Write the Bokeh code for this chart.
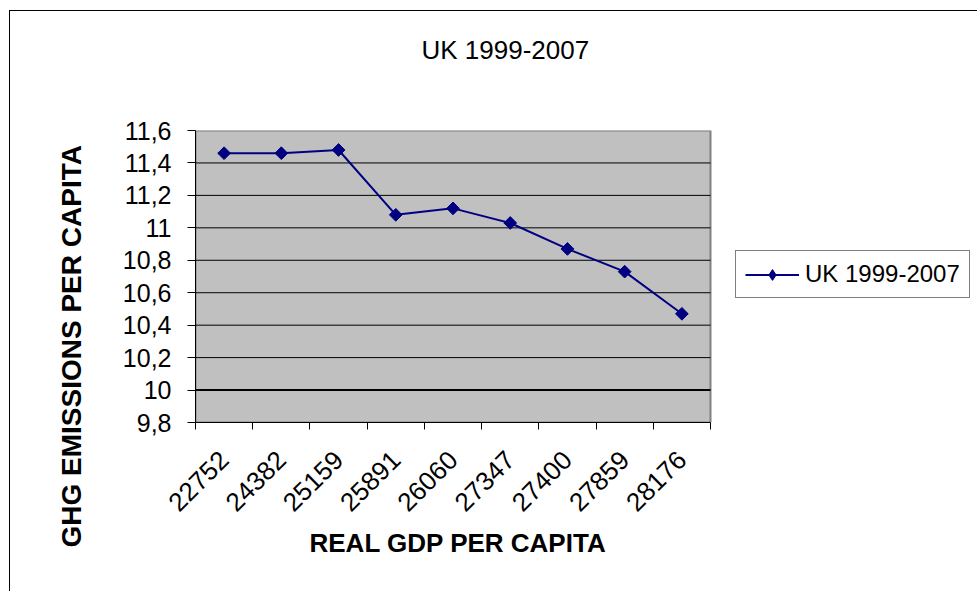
import math
from bokeh.plotting import figure
from bokeh.models import (Range1d, FixedTicker, Legend, LegendItem, Title,
                          ColumnDataSource, BoxAnnotation)
from bokeh.embed import file_html
from bokeh.resources import INLINE

# ---- data ----
gdp_labels = ["22752", "24382", "25159", "25891", "26060",
              "27347", "27400", "27859", "28176"]
ghg_values = [11.46, 11.46, 11.48, 11.08, 11.12, 11.03, 10.87, 10.73, 10.47]
y_ticks = [9.8, 10.0, 10.2, 10.4, 10.6, 10.8, 11.0, 11.2, 11.4, 11.6]
y_tick_labels = ["9,8", "10", "10,2", "10,4", "10,6", "10,8",
                 "11", "11,2", "11,4", "11,6"]
chart_title = "UK 1999-2007"
series_name = "UK 1999-2007"
x_title = "REAL GDP PER CAPITA"
y_title = "GHG EMISSIONS PER CAPITA"

FONT = "Liberation Sans"
NAVY = "#000080"

# ---- layout (pixels) ----
W, H = 968, 581
LEFT, TOP, BOTTOM = 185, 119, 170
PLOT_W = 515                       # width of the grey plot area
FRAME_W = W - LEFT                 # frame reaches the right edge (legend lives there)

n = len(gdp_labels)
x_pos = [i + 0.5 for i in range(n)]
x_bounds = list(range(n + 1))
x_end = n * FRAME_W / PLOT_W

p = figure(width=W, height=H, output_backend="svg", toolbar_location=None,
           x_range=Range1d(0, x_end), y_range=Range1d(y_ticks[0], y_ticks[-1]),
           min_border_left=LEFT, min_border_right=0,
           min_border_top=TOP, min_border_bottom=BOTTOM, title=None)
p.styles = {"margin-left": "9px", "margin-top": "10px",
            "border-left": "1px solid black", "border-top": "1px solid black"}

p.background_fill_color = "white"
p.border_fill_color = "white"
p.outline_line_color = None
p.xgrid.visible = False
p.ygrid.visible = False

# grey plot area
p.add_layout(BoxAnnotation(left=0, right=n, bottom=y_ticks[0], top=y_ticks[-1],
                           fill_color="#C0C0C0", fill_alpha=1,
                           line_color="#808080", line_width=2, line_alpha=1,
                           level="underlay"))
# horizontal gridlines inside plot area (the 10 line is heavier in the original)
grid_y = y_ticks[1:-1]
grid_w = [2 if v == 10.0 else 1 for v in grid_y]
p.segment(x0=[0] * len(grid_y), x1=[n] * len(grid_y), y0=grid_y, y1=grid_y,
          line_color="black", line_width=grid_w)

# spacer between frame and chart title, then the chart title
spacer = Title(text=" ", text_font_size="10px", standoff=48,
               text_font=FONT, text_color="white")
p.add_layout(spacer, "above")
main_title = Title(text=chart_title, align="left", offset=226, standoff=10,
                   vertical_align="bottom", text_font=FONT,
                   text_font_size="26px", text_font_style="normal",
                   text_color="black")
p.add_layout(main_title, "above")

# x axis
xa = p.xaxis[0]
xa.bounds = (0, n)
xa.ticker = FixedTicker(ticks=x_pos, minor_ticks=x_bounds)
xa.major_label_overrides = {x: lab for x, lab in zip(x_pos, gdp_labels)}
xa.major_label_orientation = math.pi / 4
xa.major_tick_line_color = None
xa.major_tick_out = 7
xa.major_tick_in = 0
xa.minor_tick_out = 7
xa.minor_tick_in = 0
xa.minor_tick_line_color = "black"
xa.axis_line_color = "black"
xa.major_label_text_font = FONT
xa.major_label_text_font_size = "26px"
xa.major_label_text_color = "black"
xa.major_label_standoff = 26

# x axis title (placed under the grey plot area, not the whole frame)
xtitle = Title(text=x_title, align="left", offset=114, standoff=10,
               vertical_align="top", text_font=FONT, text_font_size="26px",
               text_font_style="bold", text_color="black")
p.add_layout(xtitle, "below")

# y axis
ya = p.yaxis[0]
ya.ticker = FixedTicker(ticks=y_ticks)
ya.major_label_overrides = {v: lab for v, lab in zip(y_ticks, y_tick_labels)}
ya.major_tick_out = 8
ya.major_tick_in = 0
ya.minor_tick_line_color = None
ya.major_tick_line_color = "black"
ya.axis_line_color = "black"
ya.major_label_text_font = FONT
ya.major_label_text_font_size = "25px"
ya.major_label_text_color = "black"
ya.major_label_standoff = 16

# y axis title, shifted down like the original
ytitle = Title(text=y_title, align="left", offset=-125, standoff=62,
               vertical_align="top", text_font=FONT, text_font_size="28px",
               text_font_style="bold", text_color="black")
p.add_layout(ytitle, "left")

src = ColumnDataSource(dict(x=x_pos, y=ghg_values, label=gdp_labels))
r_line = p.line("x", "y", source=src, line_color=NAVY, line_width=2)
r_pts = p.scatter("x", "y", source=src, marker="square", size=9,
                  angle=math.pi / 4, fill_color=NAVY, line_color=NAVY)
# legend swatch: same points as a diamond marker, kept hidden on the plot
r_key = p.scatter("x", "y", source=src, marker="diamond", size=14,
                  fill_color=NAVY, line_color=NAVY, visible=False)

legend = Legend(items=[LegendItem(label=series_name, renderers=[r_line, r_key])],
                location=(540, 124))
legend.border_line_color = "black"
legend.border_line_width = 1
legend.background_fill_color = "white"
legend.background_fill_alpha = 1
legend.padding = 9
legend.spacing = 0
legend.margin = 0
legend.glyph_width = 54
legend.glyph_height = 27
legend.label_height = 27
legend.label_standoff = 6
legend.label_text_font = FONT
legend.label_text_font_size = "24px"
legend.label_text_color = "black"
p.add_layout(legend)

open("out.html", "w").write(file_html(p, INLINE))
